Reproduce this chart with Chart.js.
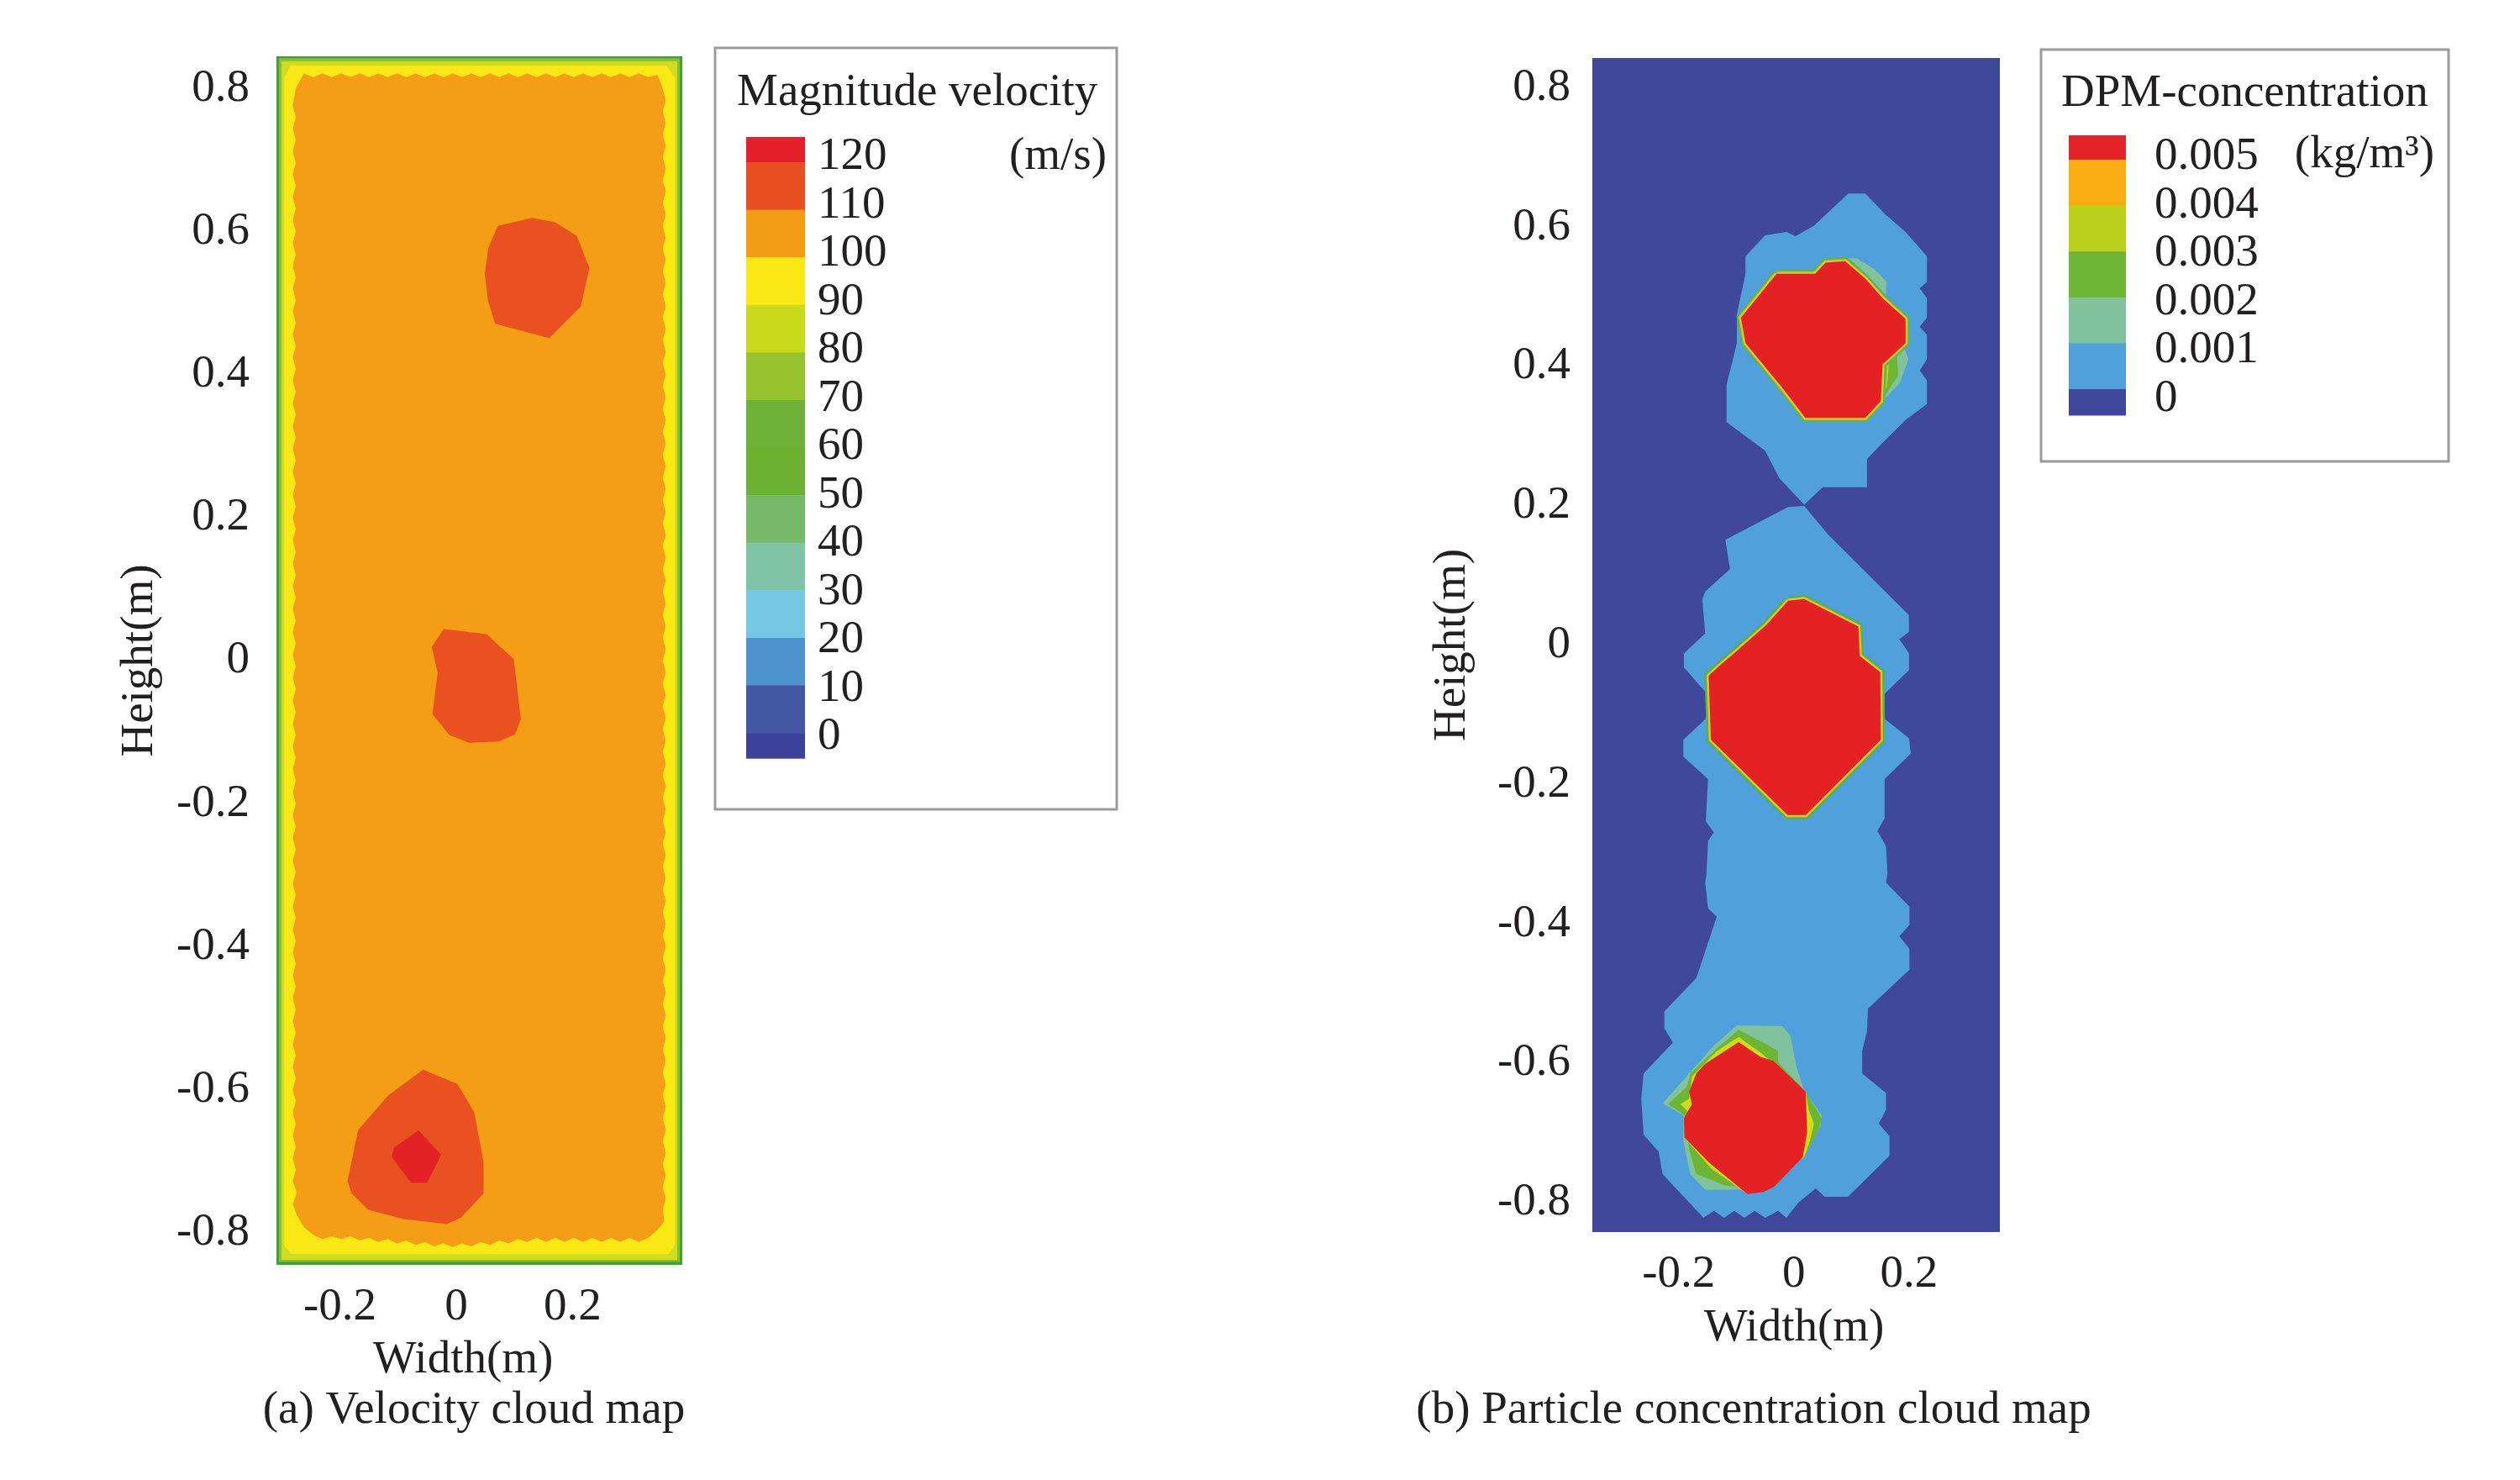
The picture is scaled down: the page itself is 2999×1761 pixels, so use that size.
<!DOCTYPE html>
<html>
<head>
<meta charset="utf-8">
<title>Velocity and particle concentration cloud maps</title>
<script src="https://cdn.jsdelivr.net/npm/chart.js@4"></script>
<style>
body { margin: 0; background: #fff; }
canvas { position: absolute; top: 0; }
#chartA { left: 0; }
#chartB { left: 1500px; }
</style>
</head>
<body>
<canvas id="chartA"></canvas>
<canvas id="chartB"></canvas>
<script>
// axis ticks
const yTicks = [0.8, 0.6, 0.4, 0.2, 0, -0.2, -0.4, -0.6, -0.8];
const xTicks = [-0.2, 0, 0.2];

// legend entries
const velocityLabels = ['120', '110', '100', '90', '80', '70', '60', '50', '40', '30', '20', '10', '0'];
const velocityColors = ['#e5202a', '#e94f22', '#f49d14', '#fbe714', '#c9d91c', '#96c22e', '#6db238', '#6bb233', '#76b968', '#80c4a7', '#74c6e2', '#4c93cf', '#4356a3', '#3c419a'];
const concLabels = ['0.005', '0.004', '0.003', '0.002', '0.001', '0'];
const concColors = ['#e42326', '#f9ac12', '#bad11b', '#6db634', '#7fc29b', '#4fa0db', '#3f489b'];

// (a) velocity contours as [width, height] in metres
const wallGreen = [[-.3092, .845], [.3887, .845], [.3887, -.845], [-.3092, -.845]];
const wallLight = [[-.305, .8425], [.3845, .8425], [.3845, -.841], [-.305, -.841]];
const wallLime = [[-.3006, .838], [.380, .838], [.380, -.838], [-.3006, -.838]];
const wallYellow = [[-.285, .832], [.362, .832], [.376, .815], [.376, -.818], [.365, -.830], [-.283, -.830], [-.296, -.818], [-.296, .815]];
const coreTop = [[-.262, .821], [-.246, .816], [-.230, .821], [-.214, .816], [-.198, .821], [-.182, .816], [-.166, .821], [-.150, .816], [-.134, .821], [-.118, .816], [-.102, .821], [-.086, .816], [-.070, .821], [-.054, .816], [-.038, .821], [-.022, .816], [-.006, .821], [.010, .816], [.026, .821], [.042, .816], [.058, .821], [.074, .816], [.090, .821], [.106, .816], [.122, .821], [.138, .816], [.154, .821], [.170, .816], [.186, .821], [.202, .816], [.218, .821], [.234, .816], [.250, .821], [.266, .816], [.282, .821], [.298, .816], [.314, .821], [.330, .816], [.346, .819]];
const coreRight = [[.355, .800], [.360, .784], [.355, .768], [.360, .752], [.355, .736], [.360, .720], [.355, .704], [.360, .688], [.355, .672], [.360, .656], [.355, .640], [.360, .624], [.355, .608], [.360, .592], [.355, .576], [.360, .560], [.355, .544], [.360, .528], [.355, .512], [.360, .496], [.355, .480], [.360, .464], [.355, .448], [.360, .432], [.355, .416], [.360, .400], [.355, .384], [.360, .368], [.355, .352], [.360, .336], [.355, .320], [.360, .304], [.355, .288], [.360, .272], [.355, .256], [.360, .240], [.355, .224], [.360, .208], [.355, .192], [.360, .176], [.355, .160], [.360, .144], [.355, .128], [.360, .112], [.355, .096], [.360, .080], [.355, .064], [.360, .048], [.355, .032], [.360, .016], [.355, 0], [.360, -.016], [.355, -.032], [.360, -.048], [.355, -.064], [.360, -.080], [.355, -.096], [.360, -.112], [.355, -.128], [.360, -.144], [.355, -.160], [.360, -.176], [.355, -.192], [.360, -.208], [.355, -.224], [.360, -.240], [.355, -.256], [.360, -.272], [.355, -.288], [.360, -.304], [.355, -.320], [.360, -.336], [.355, -.352], [.360, -.368], [.355, -.384], [.360, -.400], [.355, -.416], [.360, -.432], [.355, -.448], [.360, -.464], [.355, -.480], [.360, -.496], [.355, -.512], [.360, -.528], [.355, -.544], [.360, -.560], [.355, -.576], [.360, -.592], [.355, -.608], [.360, -.624], [.355, -.640], [.360, -.656], [.355, -.672], [.360, -.688], [.355, -.704], [.360, -.720], [.355, -.736], [.360, -.752], [.355, -.768], [.358, -.784]];
const coreBottom = [[.346, -.796], [.330, -.807], [.314, -.813], [.298, -.807], [.282, -.813], [.266, -.807], [.250, -.813], [.234, -.807], [.218, -.813], [.202, -.807], [.186, -.813], [.170, -.807], [.154, -.813], [.138, -.807], [.122, -.813], [.106, -.809], [.090, -.815], [.074, -.811], [.058, -.817], [.042, -.813], [.026, -.819], [.010, -.815], [-.006, -.820], [-.022, -.815], [-.038, -.819], [-.054, -.813], [-.070, -.817], [-.086, -.811], [-.102, -.815], [-.118, -.809], [-.134, -.813], [-.150, -.807], [-.166, -.811], [-.182, -.805], [-.198, -.809], [-.214, -.805], [-.230, -.809], [-.246, -.803], [-.262, -.792]];
const coreLeft = [[-.274, -.776], [-.281, -.760], [-.274, -.744], [-.281, -.728], [-.276, -.712], [-.281, -.696], [-.276, -.680], [-.281, -.664], [-.276, -.648], [-.281, -.632], [-.276, -.616], [-.281, -.600], [-.276, -.584], [-.281, -.568], [-.276, -.552], [-.281, -.536], [-.276, -.520], [-.281, -.504], [-.276, -.488], [-.281, -.472], [-.276, -.456], [-.281, -.440], [-.276, -.424], [-.281, -.408], [-.276, -.392], [-.281, -.376], [-.276, -.360], [-.281, -.344], [-.276, -.328], [-.281, -.312], [-.276, -.296], [-.281, -.280], [-.276, -.264], [-.281, -.248], [-.276, -.232], [-.281, -.216], [-.276, -.200], [-.281, -.184], [-.276, -.168], [-.281, -.152], [-.276, -.136], [-.281, -.120], [-.276, -.104], [-.281, -.088], [-.276, -.072], [-.281, -.056], [-.276, -.040], [-.281, -.024], [-.276, -.008], [-.281, .008], [-.276, .024], [-.281, .040], [-.276, .056], [-.281, .072], [-.276, .088], [-.281, .104], [-.276, .120], [-.281, .136], [-.276, .152], [-.281, .168], [-.276, .184], [-.281, .200], [-.276, .216], [-.281, .232], [-.276, .248], [-.281, .264], [-.276, .280], [-.281, .296], [-.276, .312], [-.281, .328], [-.276, .344], [-.281, .360], [-.276, .376], [-.281, .392], [-.276, .408], [-.281, .424], [-.276, .440], [-.281, .456], [-.276, .472], [-.281, .488], [-.276, .504], [-.281, .520], [-.276, .536], [-.281, .552], [-.276, .568], [-.281, .584], [-.276, .600], [-.281, .616], [-.276, .632], [-.281, .648], [-.276, .664], [-.281, .680], [-.276, .696], [-.281, .712], [-.276, .728], [-.281, .744], [-.276, .760], [-.281, .776], [-.276, .800]];
const fastTop = [[.0715, .608], [.1305, .619], [.170, .613], [.207, .594], [.229, .549], [.214, .495], [.160, .451], [.067, .471], [.055, .502], [.049, .541], [.055, .577]];
const fastMid = [[-.022, .044], [.052, .037], [.099, .002], [.111, -.082], [.101, -.103], [.0735, -.113], [.022, -.115], [-.012, -.104], [-.041, -.075], [-.032, -.017], [-.042, .019]];
const fastLow = [[-.057, -.572], [.002, -.592], [.031, -.632], [.047, -.702], [.047, -.745], [.008, -.779], [-.016, -.788], [-.091, -.781], [-.151, -.768], [-.180, -.745], [-.187, -.728], [-.169, -.657], [-.117, -.608]];
const peakLow = [[-.065, -.657], [-.026, -.691], [-.050, -.730], [-.078, -.730], [-.111, -.694], [-.107, -.681]];

// (b) concentration contours, same units
const concBack = [[-.350, .8426], [.3577, .8426], [.3577, -.8426], [-.350, -.8426]];
const plumeUp = [[.0944, .648], [.124, .648], [.159, .618], [.194, .593], [.231, .558], [.231, .521], [.2185, .512], [.231, .498], [.231, .470], [.2185, .457], [.231, .445], [.231, .410], [.2185, .394], [.231, .380], [.231, .346], [.194, .323], [.154, .290], [.127, .267], [.127, .2265], [.050, .2265], [.018, .2016], [-.025, .239], [-.050, .279], [-.117, .320], [-.117, .373], [-.099, .4335], [-.099, .475], [-.084, .533], [-.084, .558], [-.050, .588], [-.013, .593], [.003, .587], [.035, .602]];
const plumeLow = [[-.010, .198], [.018, .1995], [.059, .159], [.1996, .043], [.200, .019], [.183, .0085], [.200, -.012], [.200, -.036], [.1575, -.070], [.1575, -.106], [.200, -.134], [.203, -.156], [.1575, -.1925], [.1575, -.249], [.145, -.267], [.160, -.289], [.1626, -.329], [.160, -.341], [.2006, -.3756], [.2006, -.4017], [.183, -.418], [.2006, -.436], [.2006, -.466], [.1286, -.522], [.127, -.5545], [.1185, -.583], [.1185, -.615], [.160, -.643], [.160, -.667], [.1474, -.687], [.166, -.705], [.166, -.733], [.094, -.792], [.0536, -.792], [.038, -.780], [.008, -.800], [-.013, -.822], [-.0275, -.812], [-.050, -.822], [-.068, -.812], [-.086, -.822], [-.1036, -.812], [-.121, -.822], [-.139, -.812], [-.157, -.822], [-.228, -.7595], [-.235, -.727], [-.261, -.703], [-.265, -.651], [-.261, -.615], [-.210, -.5705], [-.225, -.550], [-.225, -.526], [-.1695, -.478], [-.134, -.390], [-.149, -.378], [-.154, -.341], [-.152, -.329], [-.149, -.281], [-.139, -.269], [-.153, -.253], [-.149, -.1925], [-.192, -.160], [-.192, -.136], [-.153, -.106], [-.153, -.068], [-.191, -.032], [-.191, -.012], [-.154, .0166], [-.159, .065], [-.154, .077], [-.111, .109], [-.119, .151]];
const upTeal = [[.0646, .556], [.1093, .555], [.139, .540], [.161, .5213], [.159, .4935], [.104, .535]];
const upTeal2 = [[.189, .4335], [.199, .410], [.184, .376], [.144, .341], [.154, .406]];
const upGreen = [[.179, .415], [.181, .387], [.151, .350], [.154, .403]];
const upLime = [[.165, .402], [.162, .372], [.151, .352], [.154, .403]];
const redUp = [[-.030, .533], [.037, .533], [.055, .549], [.089, .551], [.124, .526], [.154, .498], [.194, .468], [.194, .4335], [.154, .403], [.151, .350], [.124, .326], [.020, .326], [-.020, .369], [-.084, .4335], [-.092, .470]];
const redMid = [[-.010, .0636], [.018, .066], [.112, .0266], [.1144, -.0156], [.150, -.039], [.151, -.136], [.0206, -.244], [-.011, -.244], [-.144, -.136], [-.148, -.044], [-.124, -.026], [-.109, -.0156], [-.048, .0286]];
const lowTeal = [[-.0985, -.546], [-.020, -.547], [-.006, -.5605], [.005, -.607], [.018, -.639], [.0485, -.675], [.046, -.691], [.023, -.727], [-.038, -.780], [-.119, -.782], [-.154, -.782], [-.180, -.7595], [-.192, -.711], [-.192, -.675], [-.228, -.658], [-.182, -.615], [-.139, -.575]];
const lowGreen = [[-.096, -.5525], [-.043, -.575], [-.0275, -.583], [-.0275, -.599], [.0206, -.641], [.0485, -.679], [.043, -.697], [.023, -.727], [-.043, -.780], [-.119, -.776], [-.1695, -.7595], [-.182, -.723], [-.190, -.675], [-.218, -.659], [-.185, -.633], [-.180, -.615], [-.134, -.579]];
const lowLime = [[-.096, -.5625], [-.055, -.587], [.0206, -.641], [.0257, -.667], [.035, -.687], [.028, -.711], [.018, -.735], [-.081, -.788], [-.144, -.751], [-.190, -.707], [-.185, -.669], [-.197, -.659], [-.182, -.651], [-.177, -.619], [-.134, -.583]];
const redLow = [[-.096, -.570], [-.058, -.591], [-.035, -.597], [.0206, -.641], [.023, -.699], [.0156, -.735], [-.035, -.778], [-.053, -.785], [-.081, -.788], [-.147, -.743], [-.190, -.707], [-.191, -.679], [-.177, -.659], [-.182, -.641], [-.1695, -.615], [-.154, -.601]];

const serif = '"Liberation Serif", "Times New Roman", serif';
const inkColor = '#231f20';

function shape(points, color, border, borderWidth) {
    return {
        data: [...points, points[0]].map(p => ({ x: p[0], y: p[1] })),
        showLine: true,
        fill: color ? 'shape' : false,
        backgroundColor: color || 'transparent',
        borderColor: border || 'transparent',
        borderWidth: borderWidth || 0,
        pointRadius: 0,
        tension: 0
    };
}

// captions, box and colour bar are not part of the axes
function annotations(cfg) {
    return {
        id: 'annotations',
        afterDraw(chart) {
            const c = chart.ctx;
            c.save();
            c.translate(-cfg.originX, 0);
            c.fillStyle = inkColor;
            c.font = '55px ' + serif;
            c.textBaseline = 'alphabetic';
            c.textAlign = 'center';
            c.fillText('Width(m)', cfg.xTitle[0], cfg.xTitle[1]);
            c.fillText(cfg.caption, cfg.captionPos[0], cfg.captionPos[1]);

            const b = cfg.box;
            c.strokeStyle = '#9b9b9b';
            c.lineWidth = 3;
            c.strokeRect(b.x, b.y, b.w, b.h);

            c.textAlign = 'left';
            c.fillText(cfg.title, cfg.titlePos[0], cfg.titlePos[1]);
            c.textAlign = 'right';
            c.fillText(cfg.unit, cfg.unitPos[0], cfg.unitPos[1]);

            // colour bar
            const bar = cfg.bar;
            let y = bar.y;
            cfg.colors.forEach((col, i) => {
                const h = i === 0 ? bar.first : (i === cfg.colors.length - 1 ? bar.last : bar.step);
                c.fillStyle = col;
                c.fillRect(bar.x, y, bar.w, h + 0.5);
                y += h;
            });

            c.fillStyle = inkColor;
            c.textAlign = 'left';
            c.textBaseline = 'middle';
            cfg.labels.forEach((txt, i) => {
                c.fillText(txt, cfg.labelX, cfg.labelY + i * cfg.labelStep);
            });
            c.restore();
        }
    };
}

function panel(id, layers, p, extra) {
    const canvas = document.getElementById(id);
    canvas.width = p.width;
    canvas.height = 1761;
    canvas.style.width = p.width + 'px';
    canvas.style.height = '1761px';
    new Chart(canvas, {
        type: 'scatter',
        data: { datasets: layers.slice().reverse() },
        options: {
            responsive: false,
            animation: false,
            devicePixelRatio: 1,
            events: [],
            layout: { padding: { left: 100, right: p.right, top: p.top, bottom: 0 } },
            plugins: { legend: { display: false }, tooltip: { enabled: false } },
            scales: {
                x: {
                    type: 'linear',
                    min: p.xMin,
                    max: p.xMax,
                    grid: { display: false, drawTicks: false },
                    border: { display: false },
                    afterBuildTicks: s => { s.ticks = xTicks.map(v => ({ value: v })); },
                    afterFit: s => { s.height = p.xHeight; },
                    ticks: {
                        autoSkip: false,
                        maxRotation: 0,
                        padding: p.xPad,
                        color: inkColor,
                        font: { family: serif, size: 55 },
                        callback: v => String(v)
                    }
                },
                y: {
                    type: 'linear',
                    min: p.yMin,
                    max: p.yMax,
                    grid: { display: false, drawTicks: false },
                    border: { display: false },
                    afterBuildTicks: s => { s.ticks = yTicks.map(v => ({ value: v })); },
                    afterFit: s => { s.width = p.yWidth; },
                    title: {
                        display: true,
                        text: 'Height(m)',
                        color: inkColor,
                        padding: { top: p.yTitlePad, bottom: 0 },
                        font: { family: serif, size: 55 }
                    },
                    ticks: {
                        autoSkip: false,
                        padding: p.yPad,
                        color: inkColor,
                        font: { family: serif, size: 55 },
                        callback: v => String(v)
                    }
                }
            }
        },
        plugins: [annotations(extra)]
    });
}

panel('chartA', [
    shape(wallGreen, '#3f9f3a'),
    shape(wallLight, '#86bf30'),
    shape(wallLime, '#cfdc20'),
    shape(wallYellow, '#f9e814'),
    shape([...coreTop, ...coreRight, ...coreBottom, ...coreLeft], '#f49d15'),
    shape(fastTop, '#ea5121'),
    shape(fastMid, '#ea5121'),
    shape(fastLow, '#ea5121'),
    shape(peakLow, '#e32225')
], {
    width: 1500, right: 688, top: 67, xHeight: 256, yWidth: 229,
    xMin: -0.3092, xMax: 0.3887, yMin: -0.845, yMax: 0.845,
    xPad: 18, yPad: 32, yTitlePad: 34
}, {
    originX: 0,
    xTitle: [551, 1633], caption: '(a) Velocity cloud map', captionPos: [564, 1693],
    box: { x: 851, y: 57, w: 478, h: 906 },
    title: 'Magnitude velocity', titlePos: [877, 125],
    unit: '(m/s)', unitPos: [1317, 201],
    bar: { x: 888, y: 163, w: 70, first: 30, step: 56.6, last: 30 },
    colors: velocityColors, labels: velocityLabels,
    labelX: 973, labelY: 187, labelStep: 57.5
});

panel('chartB', [
    shape(concBack, '#3f489b'),
    shape(plumeUp, '#4fa0db'),
    shape(plumeLow, '#4fa0db'),
    shape(upTeal, '#7fc29b'),
    shape(upTeal2, '#7fc29b'),
    shape(upGreen, '#6db634'),
    shape(upLime, '#bad11b'),
    shape(redUp, null, '#5fb05a', 10),
    shape(redUp, null, '#d8c92a', 5),
    shape(redUp, '#e42223'),
    shape(redMid, null, '#55b04d', 10),
    shape(redMid, null, '#d8c92a', 5),
    shape(redMid, '#e42223'),
    shape(lowTeal, '#7fc29b'),
    shape(lowGreen, '#6db634'),
    shape(lowLime, '#cfdc1c'),
    shape(redLow, '#e42223')
], {
    width: 1499, right: 619, top: 69, xHeight: 295, yWidth: 295,
    xMin: -0.350, xMax: 0.3577, yMin: -0.8426, yMax: 0.8426,
    xPad: 18, yPad: 26, yTitlePad: 96
}, {
    originX: 1500,
    xTitle: [2135, 1595], caption: '(b) Particle concentration cloud map', captionPos: [2087, 1693],
    box: { x: 2429, y: 59, w: 485, h: 490 },
    title: 'DPM-concentration', titlePos: [2453, 126],
    unit: '(kg/m\u00b3)', unitPos: [2897, 199],
    bar: { x: 2462, y: 161, w: 68, first: 29, step: 54.6, last: 31 },
    colors: concColors, labels: concLabels,
    labelX: 2564, labelY: 187, labelStep: 57.5
});
</script>
</body>
</html>
